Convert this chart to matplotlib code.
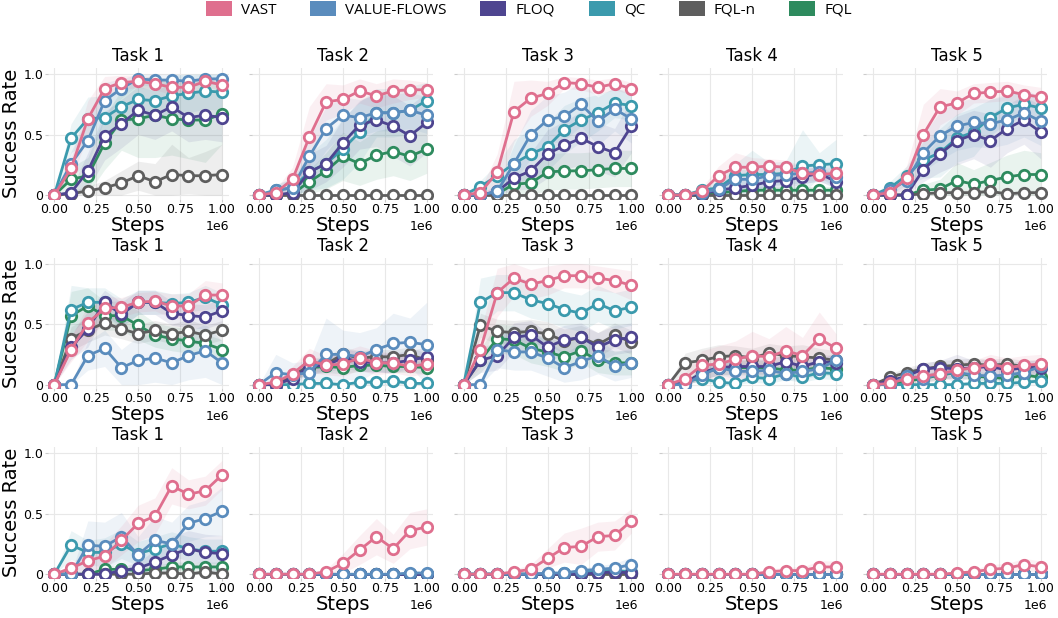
import numpy as np
import matplotlib
matplotlib.use("Agg")
import matplotlib.pyplot as plt
from matplotlib.patches import Patch

steps = [0, 1e5, 2e5, 3e5, 4e5, 5e5, 6e5, 7e5, 8e5, 9e5, 1e6]
methods = ["VAST", "VALUE-FLOWS", "FLOQ", "QC", "FQL-n", "FQL"]
colors = {"VAST": "#DF6F8E", "VALUE-FLOWS": "#5A8CBD", "FLOQ": "#4E4590",
          "QC": "#3B9AAD", "FQL-n": "#5E5E5E", "FQL": "#2E8B5E"}
draw_order = ["FQL", "FQL-n", "QC", "FLOQ", "VALUE-FLOWS", "VAST"]
task_names = ["Task 1", "Task 2", "Task 3", "Task 4", "Task 5"]

# mean success rate per row, per task, per method
row1 = [
    {"VAST": [0, .22, .63, .88, .93, .94, .92, .89, .89, .94, .91],
     "VALUE-FLOWS": [0, .26, .45, .78, .88, .96, .95, .95, .94, .96, .96],
     "FLOQ": [0, .02, .20, .49, .59, .70, .66, .73, .64, .66, .64],
     "QC": [0, .47, .63, .64, .73, .79, .78, .82, .84, .86, .85],
     "FQL-n": [0, .01, .035, .06, .10, .16, .11, .17, .16, .16, .17],
     "FQL": [0, .13, .16, .43, .62, .63, .66, .63, .62, .62, .67]},
    {"VAST": [0, .02, .13, .48, .77, .79, .86, .82, .86, .87, .87],
     "VALUE-FLOWS": [0, .04, .06, .32, .55, .66, .64, .68, .68, .70, .66],
     "FLOQ": [0, 0, .02, .19, .26, .43, .58, .62, .57, .49, .60],
     "QC": [0, .04, .06, .19, .26, .38, .52, .68, .68, .70, .78],
     "FQL-n": [0, 0, 0, 0, 0, 0, 0, 0, 0, 0, 0],
     "FQL": [0, 0, .01, .11, .20, .32, .26, .33, .36, .32, .38]},
    {"VAST": [0, .02, .19, .69, .80, .84, .93, .92, .89, .92, .88],
     "VALUE-FLOWS": [0, 0, .03, .26, .50, .62, .65, .75, .61, .71, .63],
     "FLOQ": [0, 0, .03, .14, .20, .34, .41, .47, .40, .35, .57],
     "QC": [0, .07, .16, .26, .34, .40, .54, .62, .68, .76, .74],
     "FQL-n": [0, 0, 0, 0, 0, 0, 0, 0, 0, 0, 0],
     "FQL": [0, 0, .01, .09, .10, .19, .20, .20, .21, .22, .22]},
    {"VAST": [0, 0, .03, .16, .23, .23, .24, .23, .18, .17, .18],
     "VALUE-FLOWS": [0, 0, .02, .05, .13, .13, .16, .17, .18, .19, .15],
     "FLOQ": [0, 0, .01, .04, .06, .08, .11, .12, .15, .18, .11],
     "QC": [0, 0, .04, .06, .16, .17, .17, .18, .24, .25, .26],
     "FQL-n": [0, 0, 0, 0, 0, 0, 0, 0, 0, 0, 0],
     "FQL": [0, 0, 0, .02, .03, .04, .04, .04, .04, .04, .04]},
    {"VAST": [0, .02, .14, .50, .73, .76, .84, .85, .86, .83, .81],
     "VALUE-FLOWS": [0, .04, .12, .35, .49, .57, .60, .59, .62, .68, .61],
     "FLOQ": [0, 0, 0, .21, .34, .45, .50, .45, .55, .62, .52],
     "QC": [0, .06, .16, .29, .35, .47, .52, .64, .72, .75, .72],
     "FQL-n": [0, 0, 0, .01, .02, .02, .02, .03, .01, .02, .02],
     "FQL": [0, 0, 0, .04, .05, .12, .09, .12, .15, .17, .17]},
]
row2 = [
    {"VAST": [0, .29, .51, .63, .64, .68, .69, .65, .65, .74, .74],
     "VALUE-FLOWS": [0, 0, .24, .30, .14, .20, .22, .18, .24, .28, .18],
     "FLOQ": [0, .31, .46, .68, .58, .68, .68, .59, .57, .56, .61],
     "QC": [0, .62, .68, .68, .59, .68, .68, .67, .68, .72, .66],
     "FQL-n": [0, .38, .45, .51, .46, .42, .45, .42, .44, .41, .45],
     "FQL": [0, .57, .65, .57, .57, .49, .41, .38, .36, .34, .29]},
    {"VAST": [0, .02, .09, .20, .16, .17, .22, .18, .18, .15, .17],
     "VALUE-FLOWS": [0, .10, .08, .10, .25, .25, .23, .29, .34, .35, .33],
     "FLOQ": [0, 0, .05, .15, .16, .22, .19, .18, .18, .20, .23],
     "QC": [0, 0, 0, .01, .01, 0, .02, .02, .03, .01, .01],
     "FQL-n": [0, 0, .07, .16, .17, .25, .22, .23, .23, .25, .20],
     "FQL": [0, 0, .07, .14, .15, .14, .16, .16, .15, .15, .14]},
    {"VAST": [0, .29, .76, .88, .83, .86, .90, .90, .88, .86, .82],
     "VALUE-FLOWS": [0, 0, .29, .27, .27, .22, .14, .19, .24, .15, .18],
     "FLOQ": [0, .20, .24, .39, .41, .31, .37, .39, .31, .37, .39],
     "QC": [0, .68, .76, .76, .70, .67, .62, .59, .67, .61, .64],
     "FQL-n": [0, .49, .44, .43, .44, .42, .36, .39, .33, .41, .35],
     "FQL": [0, .20, .38, .37, .30, .27, .23, .28, .20, .18, .18]},
    {"VAST": [0, .05, .16, .17, .21, .24, .23, .28, .24, .38, .30],
     "VALUE-FLOWS": [0, 0, .08, .14, .11, .11, .12, .09, .11, .13, .20],
     "FLOQ": [0, .01, .10, .14, .15, .15, .15, .19, .15, .19, .18],
     "QC": [0, .03, .05, .02, .01, .06, .05, .09, .06, .10, .09],
     "FQL-n": [0, .18, .20, .23, .24, .22, .26, .24, .23, .22, .20],
     "FQL": [0, .02, .09, .14, .14, .14, .14, .12, .12, .14, .13]},
    {"VAST": [0, .01, .05, .07, .09, .12, .14, .17, .14, .16, .17],
     "VALUE-FLOWS": [0, 0, .07, .05, .09, .10, .08, .07, .08, .10, .15],
     "FLOQ": [0, .03, .07, .13, .14, .13, .14, .15, .12, .14, .14],
     "QC": [0, 0, 0, 0, 0, 0, .01, .01, .01, .02, .03],
     "FQL-n": [0, .06, .10, .13, .15, .16, .17, .16, .17, .15, .16],
     "FQL": [0, 0, .03, .05, .08, .10, .07, .06, .05, .08, .06]},
]
row3 = [
    {"VAST": [0, .05, .11, .15, .28, .42, .48, .73, .66, .69, .82],
     "VALUE-FLOWS": [0, 0, .24, .23, .31, .16, .28, .25, .42, .46, .52],
     "FLOQ": [0, 0, 0, 0, .03, .05, .10, .16, .21, .18, .17],
     "QC": [0, .24, .18, .18, .25, .17, .21, .25, .21, .19, .19],
     "FQL-n": [0, 0, 0, 0, 0, 0, .01, .01, 0, .02, 0],
     "FQL": [0, 0, 0, .04, .04, .03, .04, .06, .06, .06, .06]},
    {"VAST": [0, 0, 0, 0, .02, .09, .20, .31, .21, .36, .39],
     "VALUE-FLOWS": [0, 0, 0, 0, 0, 0, 0, 0, 0, .01, .01],
     "FLOQ": [0, 0, 0, 0, 0, 0, 0, 0, 0, 0, 0],
     "QC": [0, 0, 0, 0, 0, 0, 0, 0, 0, 0, 0],
     "FQL-n": [0, 0, 0, 0, 0, 0, 0, 0, 0, 0, 0],
     "FQL": [0, 0, 0, 0, 0, 0, 0, 0, 0, 0, 0]},
    {"VAST": [0, 0, 0, .02, .04, .13, .22, .23, .31, .32, .44],
     "VALUE-FLOWS": [0, 0, 0, 0, 0, .01, .01, .03, .04, .05, .08],
     "FLOQ": [0, 0, 0, 0, 0, 0, 0, 0, .01, .02, .01],
     "QC": [0, 0, 0, 0, 0, 0, .01, .01, .02, .03, .02],
     "FQL-n": [0, 0, 0, 0, 0, 0, 0, 0, 0, 0, 0],
     "FQL": [0, 0, 0, 0, 0, 0, 0, 0, .01, .01, .01]},
    {"VAST": [0, 0, 0, 0, 0, 0, .02, .03, .03, .06, .06],
     "VALUE-FLOWS": [0, 0, 0, 0, 0, 0, 0, 0, 0, 0, 0],
     "FLOQ": [0, 0, 0, 0, 0, 0, 0, 0, 0, 0, 0],
     "QC": [0, 0, 0, 0, 0, 0, 0, 0, 0, 0, 0],
     "FQL-n": [0, 0, 0, 0, 0, 0, 0, 0, 0, 0, 0],
     "FQL": [0, 0, 0, 0, 0, 0, 0, 0, 0, 0, 0]},
    {"VAST": [0, 0, 0, 0, 0, .01, .02, .04, .05, .08, .06],
     "VALUE-FLOWS": [0, 0, 0, 0, 0, 0, 0, 0, 0, 0, 0],
     "FLOQ": [0, 0, 0, 0, 0, 0, 0, 0, 0, 0, 0],
     "QC": [0, 0, 0, 0, 0, 0, 0, 0, 0, 0, 0],
     "FQL-n": [0, 0, 0, 0, 0, 0, 0, 0, 0, 0, 0],
     "FQL": [0, 0, 0, 0, 0, 0, 0, 0, 0, 0, 0]},
]

# half-width of the shaded band per row, per task, per method
band1 = [
    {"VAST": [0, .08, .15, .10, .06, .05, .05, .06, .06, .04, .05],
     "VALUE-FLOWS": [0, .10, .20, .15, .08, .05, .05, .05, .05, .04, .04],
     "FLOQ": [0, .03, .15, .20, .20, .20, .20, .20, .20, .20, .20],
     "QC": [0, .12, .18, .18, .16, .15, .16, .17, .16, .15, .15],
     "FQL-n": [0, .02, .04, .06, .10, .12, .15, .25, .15, .20, .25],
     "FQL": [0, .10, .15, .22, .25, .32, .35, .30, .32, .35, .25]},
    {"VAST": [0, .03, .10, .25, .15, .12, .10, .10, .10, .08, .06],
     "VALUE-FLOWS": [0, .04, .08, .15, .18, .15, .15, .15, .15, .15, .15],
     "FLOQ": [0, .02, .05, .15, .15, .20, .20, .22, .25, .25, .25],
     "QC": [0, .05, .08, .15, .20, .25, .25, .20, .20, .20, .15],
     "FQL-n": [0, 0, 0, 0, 0, 0, 0, 0, 0, 0, 0],
     "FQL": [0, 0, .03, .10, .15, .20, .18, .20, .20, .20, .20]},
    {"VAST": [0, .03, .15, .25, .15, .10, .05, .05, .06, .05, .05],
     "VALUE-FLOWS": [0, .02, .05, .15, .20, .20, .20, .18, .20, .18, .20],
     "FLOQ": [0, .01, .05, .10, .15, .20, .20, .22, .20, .20, .22],
     "QC": [0, .05, .10, .20, .20, .20, .20, .18, .15, .12, .12],
     "FQL-n": [0, 0, 0, 0, 0, 0, 0, 0, 0, 0, 0],
     "FQL": [0, 0, .02, .08, .10, .15, .15, .15, .15, .15, .15]},
    {"VAST": [0, 0, .03, .08, .12, .08, .06, .06, .06, .05, .05],
     "VALUE-FLOWS": [0, 0, .02, .05, .08, .08, .08, .08, .08, .08, .08],
     "FLOQ": [0, 0, .01, .03, .05, .06, .06, .06, .06, .06, .06],
     "QC": [0, 0, .03, .06, .10, .20, .10, .10, .30, .10, .20],
     "FQL-n": [0, 0, 0, 0, 0, 0, 0, 0, 0, 0, 0],
     "FQL": [0, 0, 0, .02, .02, .03, .03, .03, .03, .03, .03]},
    {"VAST": [0, .03, .10, .25, .15, .10, .08, .08, .08, .08, .08],
     "VALUE-FLOWS": [0, .03, .08, .15, .20, .20, .20, .20, .20, .20, .20],
     "FLOQ": [0, 0, 0, .10, .15, .20, .20, .22, .20, .20, .22],
     "QC": [0, .05, .08, .15, .20, .20, .20, .15, .12, .10, .10],
     "FQL-n": [0, 0, 0, .01, .02, .02, .02, .02, .01, .02, .02],
     "FQL": [0, 0, 0, .05, .08, .15, .12, .15, .18, .20, .18]},
]
band2 = [
    {"VAST": [0, .10, .15, .10, .08, .08, .08, .10, .10, .12, .10],
     "VALUE-FLOWS": [0, 0, .12, .15, .15, .20, .20, .18, .20, .22, .18],
     "FLOQ": [0, .10, .15, .10, .10, .10, .10, .10, .10, .10, .10],
     "QC": [0, .20, .12, .12, .12, .10, .10, .08, .08, .10, .10],
     "FQL-n": [0, .10, .10, .10, .08, .08, .08, .08, .10, .08, .08],
     "FQL": [0, .20, .15, .12, .12, .12, .10, .10, .10, .08, .08]},
    {"VAST": [0, .02, .06, .10, .08, .10, .10, .10, .08, .08, .08],
     "VALUE-FLOWS": [0, .15, .10, .10, .30, .20, .20, .18, .25, .20, .35],
     "FLOQ": [0, 0, .04, .06, .06, .08, .08, .08, .08, .08, .08],
     "QC": [0, 0, 0, .01, .01, 0, .02, .02, .03, .01, .01],
     "FQL-n": [0, 0, .04, .06, .06, .06, .06, .06, .06, .06, .06],
     "FQL": [0, 0, .04, .05, .05, .05, .05, .05, .05, .05, .05]},
    {"VAST": [0, .15, .20, .15, .12, .12, .10, .10, .10, .10, .12],
     "VALUE-FLOWS": [0, 0, .15, .15, .15, .15, .12, .15, .15, .12, .12],
     "FLOQ": [0, .10, .12, .12, .12, .12, .12, .12, .12, .12, .12],
     "QC": [0, .20, .15, .15, .15, .15, .15, .15, .15, .15, .15],
     "FQL-n": [0, .10, .10, .10, .10, .10, .10, .10, .10, .10, .10],
     "FQL": [0, .10, .12, .12, .12, .12, .12, .10, .10, .10, .10]},
    {"VAST": [0, .05, .12, .15, .15, .20, .15, .20, .15, .22, .12],
     "VALUE-FLOWS": [0, 0, .04, .06, .06, .06, .06, .06, .06, .06, .08],
     "FLOQ": [0, .01, .06, .06, .06, .06, .06, .06, .06, .06, .06],
     "QC": [0, .02, .03, .02, .01, .04, .04, .05, .04, .05, .05],
     "FQL-n": [0, .08, .10, .10, .08, .08, .08, .08, .10, .08, .08],
     "FQL": [0, .02, .05, .06, .06, .06, .06, .06, .06, .06, .06]},
    {"VAST": [0, .01, .04, .05, .06, .06, .06, .08, .08, .08, .08],
     "VALUE-FLOWS": [0, 0, .03, .03, .04, .04, .04, .04, .04, .04, .06],
     "FLOQ": [0, .02, .04, .05, .06, .12, .06, .06, .06, .06, .06],
     "QC": [0, 0, 0, 0, 0, 0, .01, .01, .01, .02, .02],
     "FQL-n": [0, .03, .04, .05, .05, .05, .05, .05, .05, .05, .05],
     "FQL": [0, 0, .02, .03, .04, .04, .04, .04, .04, .04, .04]},
]
band3 = [
    {"VAST": [0, .04, .08, .10, .12, .15, .15, .15, .12, .12, .12],
     "VALUE-FLOWS": [0, 0, .20, .20, .20, .15, .20, .18, .15, .15, .20],
     "FLOQ": [0, 0, 0, 0, .03, .05, .10, .15, .15, .15, .15],
     "QC": [0, .12, .10, .12, .12, .10, .10, .10, .10, .10, .10],
     "FQL-n": [0, 0, 0, 0, 0, 0, .01, .01, 0, .02, 0],
     "FQL": [0, 0, 0, .03, .03, .03, .03, .04, .04, .04, .04]},
    {"VAST": [0, 0, 0, 0, .02, .08, .12, .15, .12, .15, .15],
     "VALUE-FLOWS": [0, 0, 0, 0, 0, 0, 0, 0, 0, .01, .01],
     "FLOQ": [0, 0, 0, 0, 0, 0, 0, 0, 0, 0, 0],
     "QC": [0, 0, 0, 0, 0, 0, 0, 0, 0, 0, 0],
     "FQL-n": [0, 0, 0, 0, 0, 0, 0, 0, 0, 0, 0],
     "FQL": [0, 0, 0, 0, 0, 0, 0, 0, 0, 0, 0]},
    {"VAST": [0, 0, 0, .02, .04, .08, .12, .15, .12, .12, .10],
     "VALUE-FLOWS": [0, 0, 0, 0, 0, .01, .01, .02, .03, .04, .06],
     "FLOQ": [0, 0, 0, 0, 0, 0, 0, 0, .01, .01, .01],
     "QC": [0, 0, 0, 0, 0, 0, .01, .01, .01, .02, .02],
     "FQL-n": [0, 0, 0, 0, 0, 0, 0, 0, 0, 0, 0],
     "FQL": [0, 0, 0, 0, 0, 0, 0, 0, .01, .01, .01]},
    {"VAST": [0, 0, 0, 0, 0, 0, .02, .03, .03, .05, .05],
     "VALUE-FLOWS": [0, 0, 0, 0, 0, 0, 0, 0, 0, 0, 0],
     "FLOQ": [0, 0, 0, 0, 0, 0, 0, 0, 0, 0, 0],
     "QC": [0, 0, 0, 0, 0, 0, 0, 0, 0, 0, 0],
     "FQL-n": [0, 0, 0, 0, 0, 0, 0, 0, 0, 0, 0],
     "FQL": [0, 0, 0, 0, 0, 0, 0, 0, 0, 0, 0]},
    {"VAST": [0, 0, 0, 0, 0, .01, .02, .04, .04, .05, .05],
     "VALUE-FLOWS": [0, 0, 0, 0, 0, 0, 0, 0, 0, 0, 0],
     "FLOQ": [0, 0, 0, 0, 0, 0, 0, 0, 0, 0, 0],
     "QC": [0, 0, 0, 0, 0, 0, 0, 0, 0, 0, 0],
     "FQL-n": [0, 0, 0, 0, 0, 0, 0, 0, 0, 0, 0],
     "FQL": [0, 0, 0, 0, 0, 0, 0, 0, 0, 0, 0]},
]

rows = [row1, row2, row3]
bands = [band1, band2, band3]

plt.rcParams['font.family'] = ['DejaVu Sans']
fig, axes = plt.subplots(3, 5, figsize=(10.58, 6.18), dpi=100, sharey=True)
fig.subplots_adjust(left=0.045, right=0.99, top=0.89, bottom=0.065, wspace=0.13, hspace=0.45)

x = np.array(steps)
for r in range(3):
    for c in range(5):
        ax = axes[r, c]
        for m in draw_order:
            y = np.array(rows[r][c][m])
            s = np.array(bands[r][c][m])
            ax.fill_between(x, np.clip(y - s, 0, 1), np.clip(y + s, 0, 1),
                            color=colors[m], alpha=0.1, linewidth=0)
        for m in draw_order:
            ax.plot(x, rows[r][c][m], color=colors[m], lw=2, marker='o', ms=7.5,
                    mfc='white', mec=colors[m], mew=2)
        ax.set_title(task_names[c], fontsize=12, pad=5)
        ax.set_xlim(-0.04e6, 1.04e6)
        ax.set_ylim(-0.03, 1.05)
        ax.set_xticks([0, 0.25e6, 0.5e6, 0.75e6, 1e6])
        ax.set_yticks([0, 0.5, 1.0])
        ax.set_yticklabels(["0", "0.5", "1.0"])
        ax.grid(True, color='#e8e8e8', lw=0.8)
        ax.set_axisbelow(True)
        for sp in ax.spines.values():
            sp.set_visible(False)
        ax.tick_params(labelsize=9, length=2, color='#cccccc', pad=1)
        ax.xaxis.get_offset_text().set_fontsize(9)
        ax.set_xlabel("Steps", fontsize=14, labelpad=0)
        if c == 0:
            ax.set_ylabel("Success Rate", fontsize=14, labelpad=2)

handles = [Patch(facecolor=colors[m], edgecolor='none', label=m) for m in methods]
fig.legend(handles=handles, loc='upper center', ncol=6, frameon=False,
           prop={'family': ['Open Sans', 'DejaVu Sans'], 'size': 11},
           bbox_to_anchor=(0.5, 1.02), handlelength=1.7, handleheight=1.1,
           handletextpad=0.6, columnspacing=2.2)

fig.savefig("out.png", dpi=100)
